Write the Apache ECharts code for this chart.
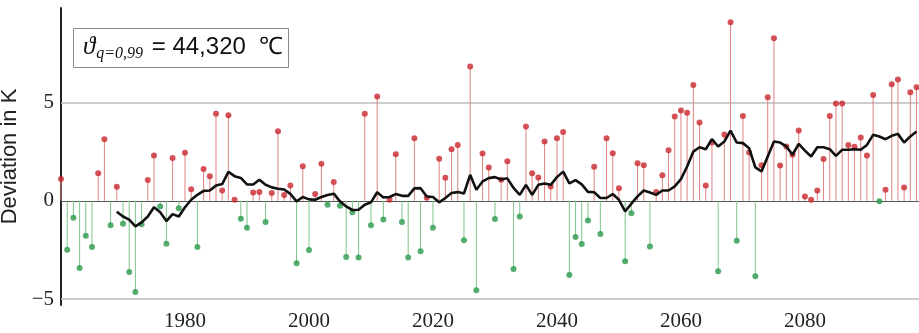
<!DOCTYPE html>
<html>
<head>
<meta charset="utf-8">
<script src="https://cdn.jsdelivr.net/npm/echarts@6/dist/echarts.min.js"></script>
<style>html,body{margin:0;padding:0;background:#fff}#c{width:919px;height:333px}</style>
</head>
<body>
<div id="c"></div>
<script>
const firstYear = 1960;
const deviations = [
  1.10, -2.49, -0.86, -3.42, -1.78, -2.35, 1.40, 3.13, -1.24, 0.71,
  -1.17, -3.62, -4.64, -1.20, 1.05, 2.30, -0.29, -2.18, 2.17, -0.38,
  2.44, 0.59, -2.35, 1.61, 1.24, 4.42, 0.52, 4.35, 0.05, -0.91,
  -1.37, 0.42, 0.44, -1.08, 0.39, 3.54, 0.29, 0.78, -3.18, 1.76,
  -2.50, 0.34, 1.88, -0.20, 0.95, -0.25, -2.86, -0.59, -2.89, 4.42,
  -1.24, 5.30, -0.95, 0.05, 2.37, -1.08, -2.88, 3.18, -2.57, 0.15,
  -1.37, 2.13, 1.17, 2.62, 2.84, -2.01, 6.82, -4.55, 2.40, 1.69,
  -0.93, 1.07, 2.01, -3.47, -0.80, 3.77, 1.40, 1.18, 3.01, 0.73,
  3.18, 3.49, -3.77, -1.84, -2.20, -1.00, 1.73, -1.69, 3.18, 2.42,
  0.64, -3.08, -0.63, 1.91, 1.81, -2.32, 0.44, 1.30, 2.57, 4.28,
  4.59, 4.48, 5.89, 3.98, 0.78, 2.96, -3.59, 3.37, 9.07, -2.03,
  4.31, 2.45, -3.84, 1.81, 5.26, 8.26, 1.79, 2.76, 2.34, 3.57,
  0.22, 0.05, 0.52, 2.12, 4.31, 4.94, 4.94, 2.84, 2.74, 3.21,
  2.30, 5.38, -0.03, 0.56, 5.92, 6.16, 0.68, 5.52, 5.77
];
const meanFirstYear = 1969;
const runningMean = [
  -0.56, -0.80, -0.96, -1.30, -1.10, -0.80, -0.33, -0.58, -1.03, -0.68,
  -0.80, -0.33, 0.05, 0.30, 0.50, 0.52, 0.77, 0.85, 1.47, 1.25,
  1.16, 0.83, 0.83, 1.07, 0.81, 0.68, 0.61, 0.57, 0.35, -0.03,
  0.19, 0.07, 0.05, 0.19, 0.29, 0.36, -0.03, -0.29, -0.47, -0.46,
  -0.20, -0.08, 0.43, 0.17, 0.19, 0.34, 0.25, 0.25, 0.63, 0.64,
  0.22, 0.19, -0.08, 0.14, 0.39, 0.44, 0.37, 1.32, 0.56, 0.98,
  1.15, 1.20, 1.08, 1.14, 0.65, 0.30, 0.81, 0.30, 0.81, 0.88,
  0.81, 1.20, 1.48, 0.88, 1.05, 0.83, 0.45, 0.43, 0.14, 0.14,
  0.34, 0.05, -0.54, -0.15, 0.22, 0.52, 0.42, 0.30, 0.52, 0.52,
  0.73, 1.10, 1.74, 2.50, 2.72, 2.62, 3.13, 2.76, 3.01, 3.57,
  2.96, 2.93, 2.67, 1.70, 1.49, 2.25, 3.01, 2.96, 2.76, 2.34,
  2.89, 2.55, 2.25, 2.72, 2.72, 2.62, 2.28, 2.59, 2.59, 2.62,
  2.59, 2.84, 3.35, 3.27, 3.13, 3.30, 3.40, 2.96, 3.27, 3.52
];
const xTickLabels = [1980, 2000, 2020, 2040, 2060, 2080];
const yTickLabels = [-5, 0, 5];
const yAxisName = 'Deviation in K';

const devData = deviations.map((v, i) => [firstYear + i, v]);
const meanData = runningMean.map((v, i) => [meanFirstYear + i, v]);

const chart = echarts.init(document.getElementById('c'), null, {renderer: 'canvas'});
chart.setOption({
  animation: false,
  backgroundColor: '#fff',
  grid: {left: 61, right: 0, top: 8, bottom: 28, containLabel: false, outerBoundsMode: 'none'},
  title: {
    left: 73, top: 26,
    text: '{th|ϑ}{sub|q=0,99}{main| = 44,320  ℃}',
    borderColor: '#8a8a8a', borderWidth: 1, backgroundColor: '#fff',
    padding: [6, 6, 6, 10],
    textStyle: {
      fontWeight: 'normal',
      rich: {
        th: {fontFamily: 'Liberation Serif', fontStyle: 'italic', fontWeight: 'normal', fontSize: 25, color: '#111', lineHeight: 30, verticalAlign: 'middle'},
        sub: {fontFamily: 'Liberation Serif', fontStyle: 'italic', fontWeight: 'normal', fontSize: 16, color: '#111', lineHeight: 18, verticalAlign: 'bottom', padding: [0, 2, 0, 1]},
        main: {fontFamily: 'Liberation Sans', fontWeight: 'normal', fontSize: 24, color: '#111', lineHeight: 30, verticalAlign: 'middle'}
      }
    }
  },
  xAxis: {
    type: 'value', min: 1960, max: 2098.4,
    axisLine: {show: false}, axisTick: {show: false}, splitLine: {show: false},
    axisLabel: {
      customValues: xTickLabels,
      formatter: v => String(v),
      fontFamily: 'Liberation Serif', fontSize: 21, color: '#222', margin: 6
    }
  },
  yAxis: {
    type: 'value', min: -5.3, max: 9.8,
    name: yAxisName, nameLocation: 'middle', nameGap: 36, nameRotate: 90,
    nameTextStyle: {fontFamily: 'Liberation Sans', fontSize: 22, color: '#222'},
    axisLine: {show: true, lineStyle: {color: '#222', width: 2}},
    axisTick: {show: false}, splitLine: {show: false},
    axisLabel: {
      customValues: yTickLabels,
      formatter: v => v < 0 ? '−' + Math.abs(v) : String(v),
      fontFamily: 'Liberation Serif', fontSize: 21, color: '#222', margin: 7
    }
  },
  series: [
    {
      type: 'bar', data: devData, barWidth: 1, z: 2,
      itemStyle: {color: p => p.value[1] >= 0 ? '#e08482' : '#7fc489'},
      markLine: {
        silent: true, symbol: 'none', label: {show: false}, z: 1,
        data: [
          {yAxis: 5, lineStyle: {color: '#bdbdbd', width: 1.5, type: 'solid'}},
          {yAxis: -5, lineStyle: {color: '#bdbdbd', width: 1.5, type: 'solid'}},
          {yAxis: 0, lineStyle: {color: '#555', width: 1, type: 'solid'}}
        ]
      }
    },
    {
      type: 'scatter', data: devData, symbolSize: 6, z: 3,
      itemStyle: {color: p => p.value[1] >= 0 ? '#c9282f' : '#2a9a4c'}
    },
    {
      type: 'line', data: meanData, showSymbol: false, z: 4,
      lineStyle: {color: '#111', width: 2.6}
    }
  ]
});
</script>
</body>
</html>
